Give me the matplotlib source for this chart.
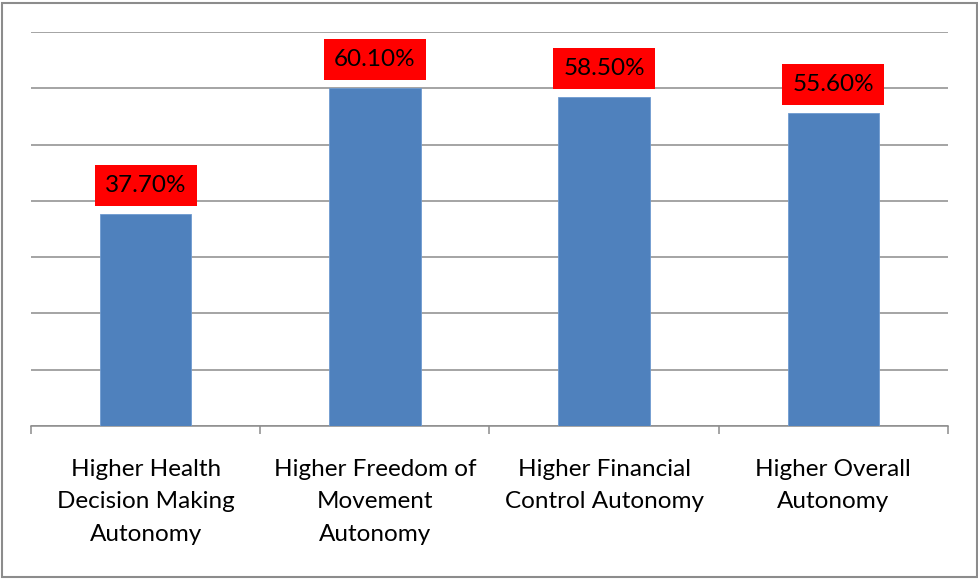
import matplotlib.pyplot as plt
from matplotlib.patches import Rectangle

plt.rcParams['font.family'] = ['Lato', 'DejaVu Sans']

categories = ['Higher Health\nDecision Making\nAutonomy',
              'Higher Freedom of\nMovement\nAutonomy',
              'Higher Financial\nControl Autonomy',
              'Higher Overall\nAutonomy']
values = [37.7, 60.1, 58.5, 55.6]
value_labels = ['37.70%', '60.10%', '58.50%', '55.60%']

fig = plt.figure(figsize=(9.79, 5.79), dpi=100)
ax = fig.add_axes([31/979, 1 - 426/579, (948-31)/979, (426-32)/579])

# grey frame around the whole chart
fig.patches.append(Rectangle((2/979, 2/579), 975/979, 574/579, transform=fig.transFigure,
                             fill=False, edgecolor='#8c8c8c', linewidth=1.5))

x = range(len(values))
bars = ax.bar(x, values, width=0.40, color='#4F81BD', edgecolor='#6f9bd0', linewidth=0.6, zorder=3)

ax.set_xlim(-0.5, 3.5)
ax.set_ylim(0, 70)
ax.set_yticks(range(0, 71, 10))
ax.yaxis.grid(True, color='#8c8c8c', linewidth=1.1)
ax.tick_params(axis='y', length=0, labelleft=False)

ax.set_xticks(list(x))
ax.set_xticklabels(categories, fontsize=17.5, linespacing=1.68)
ax.tick_params(axis='x', which='major', length=0, pad=23.5)
ax.set_xticks([-0.5, 0.5, 1.5, 2.5, 3.5], minor=True)
ax.tick_params(axis='x', which='minor', length=6, color='#8c8c8c', width=1.1)

for s in ['top', 'right', 'left']:
    ax.spines[s].set_visible(False)
ax.spines['bottom'].set_color('#8c8c8c')
ax.spines['bottom'].set_linewidth(1.1)
ax.set_axisbelow(True)

for xi, v, lab in zip(x, values, value_labels):
    ax.annotate(lab, (xi, v), xytext=(0, 20.5), textcoords='offset points',
                ha='center', va='center', fontsize=17.5, color='black',
                bbox=dict(boxstyle='square,pad=0.42', facecolor='#ff0000', edgecolor='none'))

fig.savefig('out.png', dpi=100)
